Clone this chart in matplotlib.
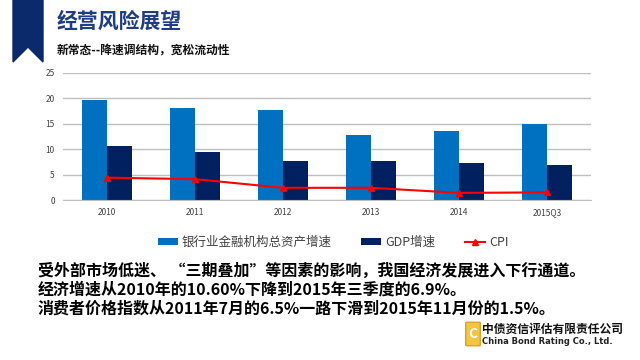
import numpy as np
import matplotlib.pyplot as plt
from matplotlib.patches import Polygon, FancyBboxPatch

plt.rcParams['font.family'] = ['Noto Sans CJK SC', 'DejaVu Sans']

years = ['2010', '2011', '2012', '2013', '2014', '2015Q3']
bank_assets = [19.7, 18.2, 17.7, 12.7, 13.5, 15.0]
gdp = [10.6, 9.5, 7.7, 7.7, 7.3, 6.9]
cpi = [4.4, 4.1, 2.4, 2.4, 1.4, 1.5]

title = '经营风险展望'
subtitle = '新常态--降速调结构，宽松流动性'
body = ['受外部市场低迷、 “三期叠加”等因素的影响，我国经济发展进入下行通道。',
        '经济增速从2010年的10.60%下降到2015年三季度的6.9%。',
        '消费者价格指数从2011年7月的6.5%一路下滑到2015年11月份的1.5%。']

fig = plt.figure(figsize=(6.4, 3.6), dpi=100)

# bookmark ribbon, pixel coords from top-left
W, H = 640, 360
rib = [(13, 0), (43, 0), (43, 62), (28, 47), (13, 62)]
fig.patches.append(Polygon([(x / W, 1 - y / H) for x, y in rib], closed=True,
                           transform=fig.transFigure, color='#0B2A6B'))
fig.text(57 / W, 1 - 21 / H, title, fontsize=15, fontweight='bold',
         color='#1F3C88', va='center')
fig.text(57 / W, 1 - 50 / H, subtitle, fontsize=8.5, fontweight='bold',
         color='#111111', va='center')

ax = fig.add_axes([63 / W, 1 - 200 / H, 528 / W, 127 / H])
x = np.arange(len(years))
bw = 0.284
b1 = ax.bar(x - bw / 2, bank_assets, bw, color='#0070C0', label='银行业金融机构总资产增速', zorder=2)
b2 = ax.bar(x + bw / 2, gdp, bw, color='#002060', label='GDP增速', zorder=2)
l1, = ax.plot(x, cpi, color='#FF0000', lw=1.5, marker='^', ms=4, label='CPI', zorder=3)

ax.set_xlim(-0.5, len(years) - 0.5)
ax.set_ylim(0, 25)
ax.set_yticks(range(0, 26, 5))
ax.set_xticks(x)
ax.set_xticklabels(years)
ax.tick_params(axis='both', length=0, labelsize=6, labelcolor='#404040', pad=6)
ax.grid(axis='y', color='#BFBFBF', lw=1, zorder=0)
for s in ['top', 'right', 'left']:
    ax.spines[s].set_visible(False)
ax.spines['bottom'].set_color('#BFBFBF')

fig.legend(handles=[b1, b2, l1], loc='center', bbox_to_anchor=(333 / W, 1 - 242 / H),
           ncol=3, frameon=False, fontsize=9, labelcolor='#404040', handlelength=1.6,
           handleheight=0.5, columnspacing=2.4, handletextpad=0.3)

for i, line in enumerate(body):
    fig.text(38 / W, 1 - (271 + 19 * i) / H, line, fontsize=11.5, fontweight='bold',
             color='black', va='center')

# company logo
fig.patches.append(FancyBboxPatch((467 / W, 1 - 345 / H), 12 / W, 22 / H,
                                  boxstyle='round,pad=0.002', transform=fig.transFigure,
                                  fc='#F5C542', ec='#E0A020'))
fig.text(473 / W, 1 - 334 / H, 'C', fontsize=10, fontweight='bold', color='white',
         ha='center', va='center')
fig.text(482 / W, 1 - 329 / H, '中债资信评估有限责任公司', fontsize=8.5, fontweight='bold',
         color='#111111', va='center')
fig.text(482 / W, 1 - 342 / H, 'China Bond Rating Co., Ltd.', fontsize=6,
         fontweight='bold', color='#222222', va='center', family=['DejaVu Sans'])

fig.savefig('out.png', dpi=100)
